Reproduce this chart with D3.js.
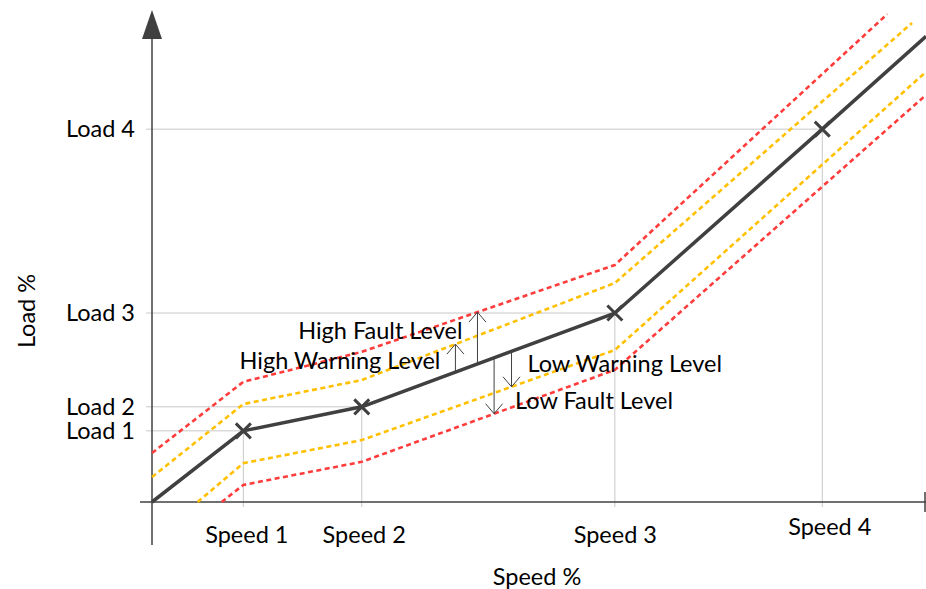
<!DOCTYPE html>
<html>
<head>
<meta charset="utf-8">
<script src="https://cdn.jsdelivr.net/npm/d3@7"></script>
<style>
  body { margin: 0; background: #fff; }
  svg { display: block; font-family: Lato, "Noto Sans", sans-serif; }
</style>
</head>
<body>
<svg id="chart" width="926" height="589"></svg>
<script>
// operating points (speed %, load %)
var speeds = [11.8, 27.1, 59.8, 86.6];
var loads = [15.4, 20.6, 40.9, 80.7];
var speedLabels = ["Speed 1", "Speed 2", "Speed 3", "Speed 4"];
var loadLabels = ["Load 1", "Load 2", "Load 3", "Load 4"];

// baseline curve through the operating points
var baseline = [[0, 0], [11.8, 15.4], [27.1, 20.6], [59.8, 40.9], [86.6, 80.7], [100, 100.8]];

// threshold curves
var highFault = [[0, 10.6], [11.8, 26.0], [27.1, 32.5], [59.8, 51.3], [95.0, 105.6]];
var highWarning = [[0, 5.4], [11.8, 21.2], [27.1, 26.4], [59.8, 47.4], [98.2, 103.7]];
var lowWarning = [[5.9, 0], [11.8, 8.4], [27.1, 13.4], [59.8, 32.9], [100, 93.1]];
var lowFault = [[9.0, 0], [11.8, 3.7], [27.1, 8.7], [59.8, 28.6], [100, 88.1]];

// annotation arrows: where they sit along the speed axis
var annotations = [
  { label: "High Warning Level", at: 39.2, curve: highWarning, side: "left" },
  { label: "High Fault Level", at: 42.05, curve: highFault, side: "left" },
  { label: "Low Fault Level", at: 44.2, curve: lowFault, side: "right" },
  { label: "Low Warning Level", at: 46.45, curve: lowWarning, side: "right" }
];

var svg = d3.select("#chart");
var x = d3.scaleLinear().domain([0, 100]).range([152, 926]);
var y = d3.scaleLinear().domain([0, 100]).range([502, 40]);

var ink = "#404040";
var grid = "#c8c8c8";
var fontSize = 23.5;

// value of a polyline at a given speed
var valueAt = function(curve, sx) {
  for (var i = 1; i < curve.length; i++) {
    if (sx <= curve[i][0]) {
      var a = curve[i - 1], b = curve[i];
      return a[1] + (b[1] - a[1]) * (sx - a[0]) / (b[0] - a[0]);
    }
  }
  return curve[curve.length - 1][1];
};

// gridlines from the axes to each operating point
speeds.forEach(function(s, i) {
  svg.append("line")
    .attr("x1", x(s)).attr("x2", x(s))
    .attr("y1", y(loads[i])).attr("y2", y(0) + 5)
    .attr("stroke", grid).attr("stroke-width", 1);
  svg.append("line")
    .attr("x1", x(0) - 6).attr("x2", x(s))
    .attr("y1", y(loads[i])).attr("y2", y(loads[i]))
    .attr("stroke", grid).attr("stroke-width", 1);
});

// axes (labels via d3 axes, lines drawn separately)
var yAxis = d3.axisLeft(y)
  .tickValues(loads)
  .tickFormat(function(d, i) { return loadLabels[i]; })
  .tickSize(0)
  .tickPadding(17);

var yg = svg.append("g")
  .attr("transform", "translate(" + x(0) + ",0)")
  .call(yAxis);
yg.select(".domain").remove();
yg.selectAll("text")
  .attr("font-size", fontSize)
  .attr("font-family", "Lato, 'Noto Sans', sans-serif")
  .attr("fill", "#000");

var nudge = { "Speed 1": [3, 0], "Speed 2": [2, 0], "Speed 4": [7, -8] };
var xAxis = d3.axisBottom(x)
  .tickValues(speeds)
  .tickFormat(function(d, i) { return speedLabels[i]; })
  .tickSize(0)
  .tickPadding(24);

var xg = svg.append("g")
  .attr("transform", "translate(0," + y(0) + ")")
  .call(xAxis);
xg.select(".domain").remove();
xg.selectAll("text")
  .attr("font-size", fontSize)
  .attr("font-family", "Lato, 'Noto Sans', sans-serif")
  .attr("fill", "#000")
  .attr("transform", function(d, i) {
    var n = nudge[speedLabels[i]] || [0, 0];
    return "translate(" + n[0] + "," + n[1] + ")";
  });

// axis lines
svg.append("line")
  .attr("x1", x(0) - 12).attr("x2", x(100))
  .attr("y1", y(0)).attr("y2", y(0))
  .attr("stroke", ink).attr("stroke-width", 1.5);
svg.append("line")
  .attr("x1", x(100) - 1).attr("x2", x(100) - 1)
  .attr("y1", y(0) - 10).attr("y2", y(0) + 10)
  .attr("stroke", ink).attr("stroke-width", 1.5);
svg.append("line")
  .attr("x1", x(0)).attr("x2", x(0))
  .attr("y1", y(0) + 43).attr("y2", 38)
  .attr("stroke", ink).attr("stroke-width", 1.5);
svg.append("path")
  .attr("d", "M" + x(0) + ",10 L" + (x(0) - 10) + ",39 L" + (x(0) + 10) + ",39 Z")
  .attr("fill", ink);

// curves
var line = d3.line()
  .x(function(d) { return x(d[0]); })
  .y(function(d) { return y(d[1]); });

var thresholds = [
  { data: highFault, color: "#ff3c3c" },
  { data: highWarning, color: "#ffc000" },
  { data: lowWarning, color: "#ffc000" },
  { data: lowFault, color: "#ff3c3c" }
];

svg.selectAll(".threshold")
  .data(thresholds)
.enter().append("path")
  .attr("class", "threshold")
  .attr("d", function(d) { return line(d.data); })
  .attr("fill", "none")
  .attr("stroke", function(d) { return d.color; })
  .attr("stroke-width", 2.6)
  .attr("stroke-dasharray", "5,3.5");

svg.append("path")
  .attr("d", line(baseline))
  .attr("fill", "none")
  .attr("stroke", ink)
  .attr("stroke-width", 3.5)
  .attr("stroke-linejoin", "round");

// cross markers
var m = 7.5;
svg.selectAll(".marker")
  .data(speeds)
.enter().append("path")
  .attr("class", "marker")
  .attr("d", function(d, i) {
    var cx = x(d), cy = y(loads[i]);
    return "M" + (cx - m) + "," + (cy - m) + "L" + (cx + m) + "," + (cy + m) +
           "M" + (cx - m) + "," + (cy + m) + "L" + (cx + m) + "," + (cy - m);
  })
  .attr("stroke", ink)
  .attr("stroke-width", 3)
  .attr("fill", "none");

// annotation arrows and labels
annotations.forEach(function(a) {
  var ax = x(a.at);
  var y0 = y(valueAt(baseline, a.at));
  var y1 = y(valueAt(a.curve, a.at));
  var dir = y1 < y0 ? 1 : -1;
  svg.append("line")
    .attr("x1", ax).attr("x2", ax)
    .attr("y1", y0).attr("y2", y1)
    .attr("stroke", ink).attr("stroke-width", 1);
  svg.append("path")
    .attr("d", "M" + (ax - 8.5) + "," + (y1 + dir * 10) + "L" + ax + "," + y1 + "L" + (ax + 8.5) + "," + (y1 + dir * 10))
    .attr("stroke", ink).attr("stroke-width", 1).attr("fill", "none");

  var t = svg.append("text")
    .attr("font-size", fontSize)
    .attr("fill", "#000")
    .text(a.label);
  if (a.side === "left") {
    t.attr("x", ax - 15).attr("y", y1 + (a.curve === highFault ? 27 : 25)).attr("text-anchor", "end");
  } else {
    t.attr("x", ax + (a.curve === lowFault ? 21 : 16)).attr("y", y1 + (a.curve === lowFault ? -5 : -15));
  }
});

// axis titles
svg.append("text")
  .attr("transform", "translate(35,311) rotate(-90)")
  .attr("text-anchor", "middle")
  .attr("font-size", fontSize)
  .text("Load %");

svg.append("text")
  .attr("x", 537).attr("y", 585)
  .attr("text-anchor", "middle")
  .attr("font-size", fontSize)
  .text("Speed %");
</script>
</body>
</html>
